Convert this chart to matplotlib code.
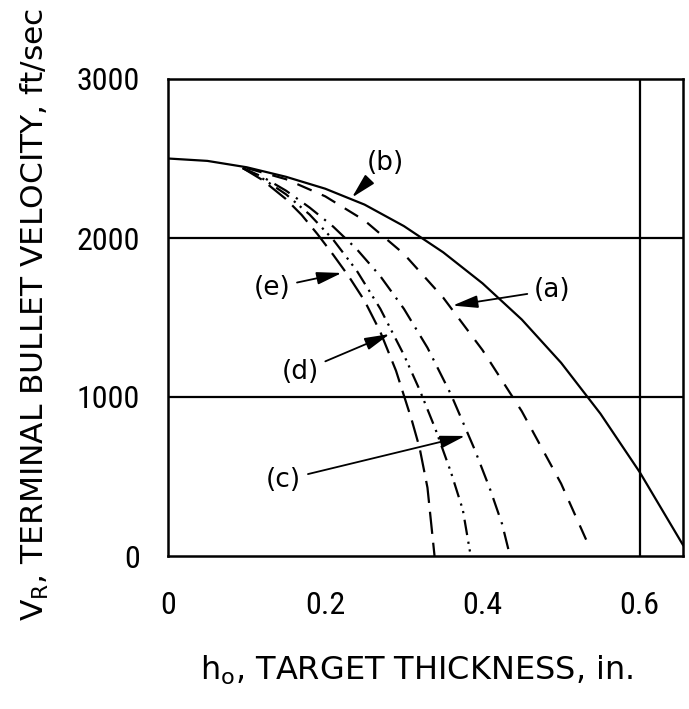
import matplotlib
matplotlib.use("Agg")
import matplotlib.pyplot as plt
from matplotlib import font_manager

# target thickness (in.) vs terminal bullet velocity (ft/sec)
h_b = [0, 0.05, 0.1, 0.15, 0.2, 0.25, 0.3, 0.35, 0.4, 0.45, 0.5, 0.55, 0.6, 0.655]
v_b = [2500, 2485, 2445, 2385, 2310, 2210, 2075, 1910, 1715, 1487, 1215, 895, 527, 69]

h_a = [0.1, 0.15, 0.2, 0.25, 0.3, 0.35, 0.4, 0.45, 0.5, 0.537]
v_a = [2440, 2370, 2262, 2110, 1900, 1625, 1295, 910, 455, 45]

h_c = [0.095, 0.12, 0.15, 0.18, 0.21, 0.24, 0.27, 0.3, 0.33, 0.36, 0.39, 0.41, 0.425, 0.435]
v_c = [2440, 2385, 2298, 2192, 2072, 1930, 1760, 1555, 1310, 1015, 670, 415, 200, 0]

h_d = [0.095, 0.12, 0.15, 0.18, 0.21, 0.24, 0.27, 0.3, 0.32, 0.34, 0.36, 0.375, 0.385]
v_d = [2440, 2375, 2275, 2148, 1990, 1795, 1555, 1265, 1045, 800, 525, 290, 0]

h_e = [0.095, 0.12, 0.15, 0.17, 0.19, 0.21, 0.23, 0.25, 0.27, 0.29, 0.3, 0.31, 0.32, 0.33, 0.339]
v_e = [2440, 2365, 2245, 2145, 2025, 1895, 1758, 1605, 1410, 1165, 1010, 855, 680, 430, 0]

x_ticks = [0, 0.2, 0.4, 0.6]
x_ticklabels = ["0", "0.2", "0.4", "0.6"]
y_ticks = [0, 1000, 2000, 3000]

# narrow face for the tick numbers, the original digits are tall and thin
entries = font_manager.fontManager.ttflist
narrow, stretch = "DejaVu Sans", "normal"
for want in ["Roboto Condensed", "Liberation Sans Narrow", "DejaVu Sans Condensed",
             "Noto Sans Condensed", "Open Sans Condensed"]:
    if any(f.name == want for f in entries):
        narrow = want
        break
else:
    for f in entries:
        if f.stretch in ("condensed", "semi-condensed", "extra-condensed") and f.style == "normal":
            narrow, stretch = f.name, f.stretch
            break

plt.rcParams["font.family"] = ["DejaVu Sans"]
plt.rcParams["mathtext.fontset"] = "dejavusans"

fig = plt.figure(figsize=(6.89, 7.09), dpi=100)
ax = fig.add_axes([168 / 689, 1 - 556 / 709, 515 / 689, 477 / 709])

lw = 1.6
ax.plot(h_b, v_b, color="black", lw=lw)
ax.plot(h_a, v_a, color="black", lw=lw, dashes=(7, 5))
ax.plot(h_c, v_c, color="black", lw=lw, dashes=(8, 3.5, 1, 3.5))
ax.plot(h_d, v_d, color="black", lw=lw, dashes=(7, 3, 1, 2.5, 1, 3))
ax.plot(h_e, v_e, color="black", lw=lw, dashes=(10, 4))

# grid lines only where the original has them
for v in [1000, 2000]:
    ax.axhline(v, color="black", lw=1.6)
ax.axvline(0.6, color="black", lw=1.6)

ax.set_xlim(0, 0.655)
ax.set_ylim(0, 3000)
ax.set_xticks(x_ticks)
ax.set_xticklabels(x_ticklabels)
ax.set_yticks(y_ticks)
ax.tick_params(length=0, labelsize=23)
ax.tick_params(axis="y", pad=20)
ax.tick_params(axis="x", pad=25)
for t in ax.get_xticklabels() + ax.get_yticklabels():
    t.set_fontfamily([narrow, "DejaVu Sans"])
    t.set_fontstretch(stretch)
for s in ax.spines.values():
    s.set_linewidth(1.8)

# curve labels with arrows
arrow = dict(arrowstyle="-|>,head_length=0.8,head_width=0.2", color="black",
             lw=1.3, shrinkA=3, shrinkB=0)
labels = [("(b)", (0.234, 2255), (0.276, 2470)),
          ("(a)", (0.362, 1575), (0.489, 1673)),
          ("(e)", (0.221, 1780), (0.132, 1686)),
          ("(d)", (0.282, 1396), (0.168, 1157)),
          ("(c)", (0.378, 755), (0.147, 478))]
for txt, tip, pos in labels:
    ax.annotate(txt, xy=tip, xytext=pos, ha="center", va="center",
                fontsize=19, arrowprops=arrow)

fig.text(417 / 689, 1 - 680 / 709, r"h$_\mathregular{o}$, TARGET THICKNESS, in.",
         ha="center", va="baseline", fontsize=23)
fig.text(19 / 689, 1 - 314 / 709, r"V$_\mathregular{R}$, TERMINAL BULLET VELOCITY, ft/sec",
         ha="left", va="center", rotation=90, fontsize=22.5)

fig.savefig("out.png", dpi=100)
